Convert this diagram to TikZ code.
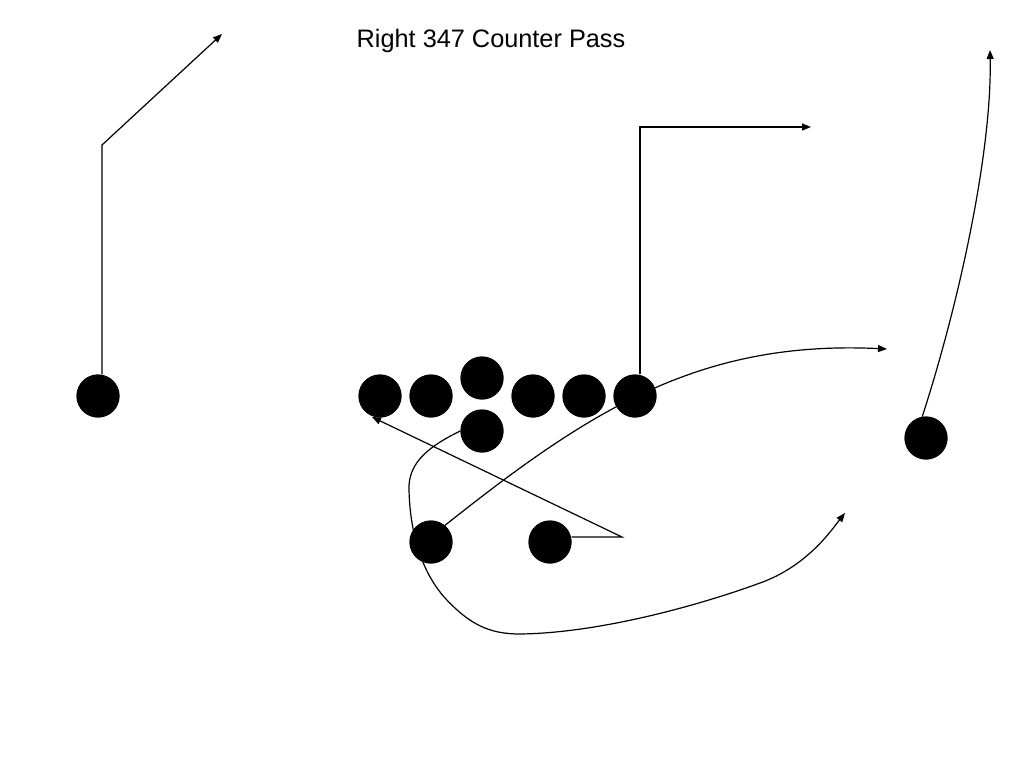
\documentclass[tikz,border=0pt]{standalone}
\usepackage{fontspec}
\setmainfont{Liberation Sans}
\usetikzlibrary{arrows.meta}

\begin{document}
\begin{tikzpicture}[x=1pt,y=-1pt,
			player/.style={circle,fill=black,minimum size=43pt,inner sep=0pt},
			route/.style={line width=1.2pt,-{Triangle[length=9pt,width=7pt]}},
			block/.style={line width=1.2pt}
			]
			
			\useasboundingbox (0,0) rectangle (1024,768);
			
			\node[anchor=base,font=\fontsize{25.3}{30}\selectfont] (title) at (491,48) {Right 347 Counter Pass};
			
			% line
			\foreach \x/\n in {380/lt,431/lg,533/rg,584/rt,635/te} {
				\node[player] (\n) at (\x,396) {};
			}
			\node[player] (c) at (482,378) {};
			\node[player] (qb) at (482,431) {};
			\node[player] (hb) at (431,542) {};
			\node[player] (fb) at (550,542) {};
			\node[player] (xwr) at (98,396) {};
			\node[player] (zwr) at (926,438) {};
			
			% route points
			\coordinate (xbreak) at (102,145);
			\coordinate (xend) at (222,34);
			\coordinate (tebreak) at (640,127);
			\coordinate (teend) at (811,127);
			\coordinate (zend) at (990,50);
			\coordinate (hbend) at (887,349);
			\coordinate (fbbreak) at (622,537);
			\coordinate (fbend) at (372,417);
			\coordinate (qbend) at (845,513);
			
			\draw[route] (xwr.north -| xbreak) -- (xbreak) -- (xend);
			\draw[route] (te.north -| tebreak) -- (tebreak) -- (teend);
			\draw[route] (zwr.100) .. controls (960,300) and (992,150) .. (zend);
			\draw[route] (fb.east |- fbbreak) -- (fbbreak) -- (fbend);
			\draw[route] (hb.50) .. controls (590,410) and (700,340) .. (hbend);
			\draw[route] (qb.west) .. controls (425,448) and (408,465) .. (409,490)
				.. controls (410,530) and (420,570) .. (445,598)
				.. controls (470,625) and (490,634) .. (520,634)
				.. controls (600,633) and (700,605) .. (760,583)
				.. controls (808,566) and (833,528) .. (qbend);
			
			% redraw players over the routes
			\foreach \n in {lt,lg,c,rg,rt,te,qb,hb,fb,xwr,zwr} {
				\fill (\n) circle (21.5);
			}
			\end{tikzpicture}
\end{document}
